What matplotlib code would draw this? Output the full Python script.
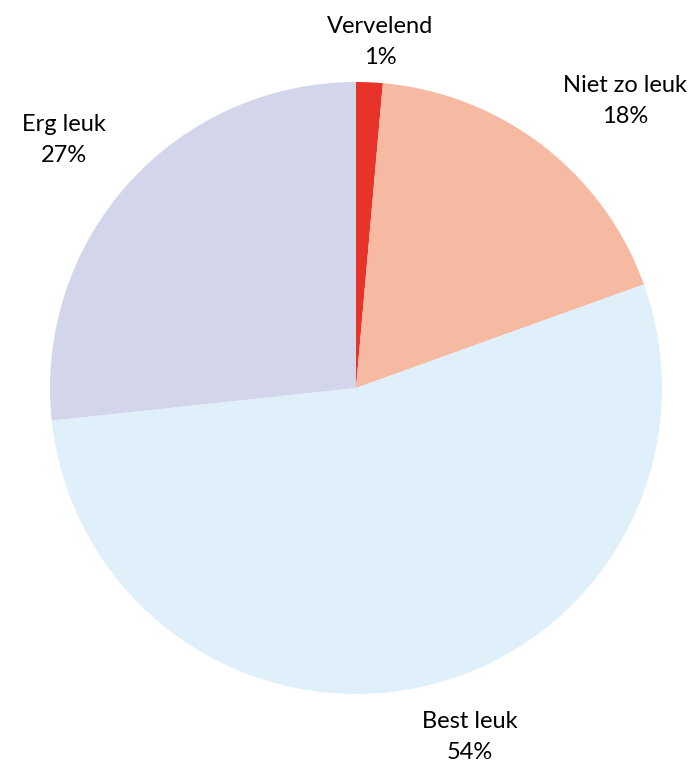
import matplotlib.pyplot as plt

labels = ["Vervelend", "Niet zo leuk", "Best leuk", "Erg leuk"]
values = [1.4, 18.1, 53.8, 26.7]
colors = ["#E8332A", "#F6B9A1", "#DFF0FB", "#D3D6EB"]

# label centres (data units, pie radius = 1)
label_pos = [(0.078, 1.131), (0.879, 0.938), (0.373, -1.141), (-0.954, 0.810)]

plt.rcParams["font.family"] = ["Lato", "DejaVu Sans"]

fig = plt.figure(figsize=(6.95, 7.64), dpi=100)
ax = fig.add_axes([0, 0, 1, 1])
ax.pie(values, colors=colors, startangle=90, counterclock=False,
       radius=1, center=(0, 0), wedgeprops=dict(linewidth=0))

total = sum(values)
for lab, v, (x, y) in zip(labels, values, label_pos):
    ax.text(x, y, f"{lab}\n{v / total * 100:.0f}%", ha="center", va="center",
            fontsize=17, linespacing=1.55, color="black")

ax.set_xlim(-356 / 306, (695 - 356) / 306)
ax.set_ylim(-(764 - 388) / 306, 388 / 306)
ax.set_aspect("equal")
ax.axis("off")

fig.savefig("out.png", dpi=100)
